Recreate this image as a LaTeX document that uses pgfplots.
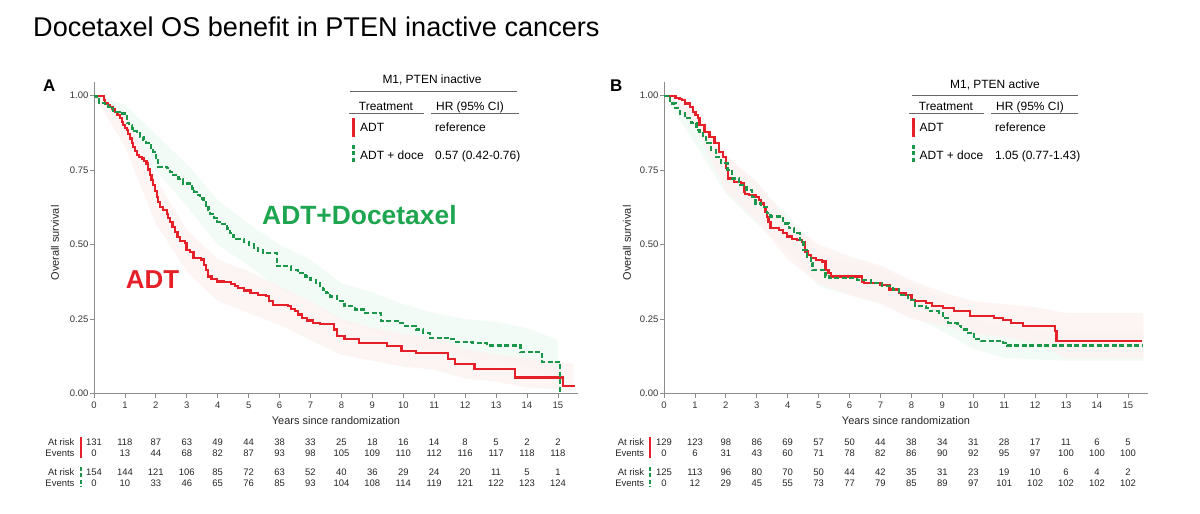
\documentclass[border=0pt]{standalone}
\usepackage{pgfplots}
\pgfplotsset{compat=1.18}
\usepackage{fontspec}
\setmainfont{Liberation Sans}
\definecolor{kmred}{RGB}{230,32,41}
\definecolor{kmgreen}{RGB}{28,150,72}
\definecolor{txtgreen}{RGB}{30,165,80}
\definecolor{redband}{RGB}{253,242,242}
\definecolor{greenband}{RGB}{243,251,246}
\definecolor{axgray}{RGB}{140,140,140}
\newcommand{\fs}[1]{\fontsize{#1}{#1}\selectfont}
\pgfplotsset{kmaxis/.style={
  scale only axis, width=484bp, height=311.8bp, anchor=south west,
  xmin=0,xmax=15.65,ymin=0,ymax=1.047,
  axis x line*=bottom, axis y line*=left,
  axis line style={axgray, line width=0.9bp},
  xtick={0,...,15}, ytick={0,0.25,0.5,0.75,1},
  yticklabels={0.00,0.25,0.50,0.75,1.00},
  tick style={axgray, line width=0.8bp},
  tick align=outside, major tick length=4.5bp,
  ticklabel style={font=\fs{9.5}, text=black!80},
  yticklabel style={inner xsep=1bp},
  /pgf/number format/assume math mode=true,
  clip=false,
}}
\newcommand{\risk}[3]{\foreach \v [count=\i from 0] in {#3} {\node[anchor=base, font=\fs{9.5}, inner sep=0, text=black!85] at ({#1+30.927*\i}, #2) {\v};}}
\begin{document}
\begin{tikzpicture}[x=1bp,y=1bp]
\useasboundingbox (0,0) rectangle (1200,514);
\node[anchor=base west, inner sep=0, font=\fs{27.2}] at (33,477.3) {Docetaxel OS benefit in PTEN inactive cancers};
\node[anchor=base west, inner sep=0, font=\fs{17}\bfseries] at (43,422.3) {A};
\node[anchor=base west, inner sep=0, font=\fs{17}\bfseries] at (610,422.3) {B};

% ---------------- Panel A ----------------
\begin{axis}[kmaxis, at={(94bp,120.5bp)}]
\addplot[fill=greenband, draw=none] coordinates {(0,1) (1,0.97) (2,0.87) (3,0.77) (4,0.65) (5,0.57) (6,0.5) (7,0.45) (8,0.37) (9,0.34) (10,0.3) (11,0.27) (12,0.25) (13,0.24) (14,0.22) (15,0.18) (15,0.05) (14,0.09) (13,0.11) (12,0.12) (11,0.14) (10,0.17) (9,0.21) (8,0.24) (7,0.31) (6,0.35) (5,0.43) (4,0.5) (3,0.63) (2,0.75) (1,0.89) (0,1)} --cycle;
\addplot[fill=redband, draw=none, fill opacity=0.85] coordinates {(0,1) (1,0.94) (2,0.72) (3,0.55) (4,0.45) (5,0.41) (6,0.36) (7,0.31) (8,0.25) (9,0.22) (10,0.2) (11,0.19) (12,0.15) (13,0.13) (14,0.12) (15.5,0.1) (15.5,0.01) (14,0.02) (13,0.04) (12,0.05) (11,0.08) (10,0.09) (9,0.11) (8,0.13) (7,0.18) (6,0.23) (5,0.27) (4,0.31) (3,0.41) (2,0.57) (1,0.83) (0,1)} --cycle;
\addplot[kmred, line width=2.2bp, const plot, mark=none] coordinates {(0,1) (0.33,0.985) (0.36,0.974) (0.45,0.968) (0.52,0.963) (0.6,0.955) (0.68,0.946) (0.76,0.935) (0.84,0.924) (0.9,0.912) (0.95,0.901) (1.0,0.892) (1.06,0.884) (1.1,0.870) (1.16,0.856) (1.22,0.842) (1.27,0.828) (1.33,0.814) (1.38,0.800) (1.46,0.794) (1.54,0.789) (1.62,0.78) (1.70,0.772) (1.75,0.752) (1.81,0.733) (1.86,0.716) (1.92,0.699) (1.97,0.68) (2.03,0.660) (2.08,0.643) (2.13,0.626) (2.24,0.615) (2.35,0.604) (2.40,0.59) (2.46,0.576) (2.54,0.56) (2.62,0.542) (2.70,0.526) (2.78,0.512) (2.93,0.505) (2.99,0.482) (3.1,0.475) (3.22,0.455) (3.45,0.450) (3.55,0.432) (3.62,0.415) (3.68,0.393) (3.8,0.385) (3.97,0.376) (4.2,0.374) (4.43,0.368) (4.55,0.36) (4.66,0.354) (4.85,0.346) (5.06,0.337) (5.3,0.332) (5.57,0.328) (5.65,0.31) (5.80,0.298) (6.26,0.293) (6.38,0.285) (6.49,0.276) (6.6,0.265) (6.72,0.254) (6.9,0.245) (7.07,0.237) (7.30,0.232) (7.76,0.215) (7.87,0.193) (8.10,0.182) (8.56,0.170) (9.48,0.159) (9.94,0.143) (10.40,0.137) (11.44,0.117) (11.67,0.098) (12.3,0.081) (13.61,0.054) (15.17,0.026) (15.54,0.026)};
\addplot[kmgreen, line width=2.2bp, const plot, mark=none, dash pattern=on 5bp off 2.5bp] coordinates {(0,1) (0.08,0.987) (0.16,0.975) (0.36,0.967) (0.45,0.962) (0.52,0.958) (0.62,0.946) (0.84,0.94) (1.0,0.935) (1.06,0.907) (1.14,0.9) (1.22,0.890) (1.3,0.882) (1.38,0.873) (1.5,0.862) (1.60,0.85) (1.68,0.842) (1.76,0.834) (1.84,0.823) (1.92,0.812) (2.0,0.79) (2.08,0.761) (2.35,0.756) (2.46,0.745) (2.57,0.733) (2.73,0.72) (2.89,0.705) (3.16,0.688) (3.24,0.677) (3.32,0.666) (3.43,0.655) (3.54,0.643) (3.62,0.63) (3.70,0.615) (3.76,0.604) (3.87,0.59) (3.97,0.576) (4.08,0.57) (4.30,0.554) (4.4,0.54) (4.51,0.526) (4.6,0.52) (4.84,0.509) (5.0,0.5) (5.17,0.488) (5.3,0.48) (5.46,0.471) (5.92,0.427) (6.38,0.415) (6.6,0.404) (6.84,0.393) (7.0,0.382) (7.18,0.371) (7.3,0.36) (7.41,0.349) (7.52,0.338) (7.64,0.326) (7.87,0.31) (8.10,0.293) (8.45,0.282) (8.74,0.271) (9.28,0.243) (9.83,0.237) (10.0,0.226) (10.40,0.215) (10.63,0.204) (10.86,0.187) (11.55,0.182) (11.72,0.173) (12.24,0.170) (12.70,0.161) (13.79,0.139) (14.48,0.106) (15.08,0)};
\end{axis}

% ---------------- Panel B ----------------
\begin{axis}[kmaxis, at={(664bp,120.5bp)}]
\addplot[fill=greenband, draw=none] coordinates {(0,1) (1,0.95) (2,0.8) (3,0.7) (4,0.6) (5,0.47) (6,0.44) (7,0.42) (8,0.37) (9,0.32) (10,0.25) (11,0.22) (13,0.21) (15.5,0.21) (15.5,0.11) (13,0.11) (11,0.12) (10,0.15) (9,0.21) (8,0.26) (7,0.31) (6,0.33) (5,0.36) (4,0.48) (3,0.57) (2,0.67) (1,0.84) (0,1)} --cycle;
\addplot[fill=redband, draw=none, fill opacity=0.85] coordinates {(0,1) (1,0.97) (2,0.8) (3,0.71) (4,0.58) (5,0.5) (6,0.46) (7,0.43) (8,0.38) (9,0.34) (10,0.31) (11,0.3) (12,0.29) (13,0.27) (15.5,0.27) (15.5,0.12) (13,0.12) (12,0.17) (11,0.19) (10,0.2) (9,0.23) (8,0.25) (7,0.3) (6,0.33) (5,0.37) (4,0.45) (3,0.58) (2,0.68) (1,0.9) (0,1)} --cycle;
\addplot[kmred, line width=2.2bp, const plot, mark=none] coordinates {(0,1) (0.37,0.993) (0.5,0.99) (0.57,0.985) (0.68,0.974) (0.84,0.963) (0.94,0.946) (1.02,0.935) (1.10,0.924) (1.15,0.901) (1.31,0.879) (1.47,0.862) (1.63,0.840) (1.79,0.812) (1.90,0.795) (2.00,0.756) (2.08,0.722) (2.27,0.711) (2.48,0.705) (2.59,0.677) (2.61,0.671) (2.75,0.666) (2.97,0.66) (3.07,0.649) (3.14,0.638) (3.23,0.627) (3.28,0.61) (3.33,0.593) (3.38,0.577) (3.44,0.557) (3.71,0.548) (3.85,0.538) (3.97,0.527) (4.14,0.520) (4.3,0.516) (4.46,0.509) (4.57,0.477) (4.65,0.465) (4.74,0.454) (4.92,0.449) (5.10,0.443) (5.22,0.415) (5.32,0.405) (5.40,0.393) (6.40,0.376) (6.46,0.371) (7.0,0.365) (7.29,0.349) (7.59,0.337) (7.83,0.332) (8.00,0.315) (8.12,0.31) (8.48,0.304) (8.66,0.293) (9.01,0.287) (9.37,0.276) (9.90,0.259) (10.67,0.254) (10.97,0.248) (11.21,0.237) (11.62,0.226) (12.63,0.209) (12.69,0.176) (15.45,0.176)};
\addplot[kmgreen, line width=2.2bp, const plot, mark=none, dash pattern=on 5bp off 2.5bp] coordinates {(0,1) (0.2,0.974) (0.37,0.958) (0.52,0.94) (0.68,0.924) (0.89,0.907) (1.05,0.884) (1.15,0.879) (1.25,0.86) (1.36,0.840) (1.52,0.817) (1.68,0.795) (1.84,0.773) (2.05,0.750) (2.19,0.722) (2.43,0.699) (2.67,0.683) (2.85,0.660) (2.96,0.638) (3.14,0.627) (3.32,0.605) (3.44,0.594) (3.85,0.571) (4.03,0.555) (4.21,0.538) (4.39,0.516) (4.51,0.482) (4.63,0.46) (4.74,0.438) (4.80,0.415) (5.22,0.393) (5.34,0.388) (6.23,0.382) (6.70,0.371) (7.06,0.360) (7.41,0.349) (7.59,0.332) (7.89,0.315) (8.12,0.293) (8.48,0.287) (8.60,0.276) (8.89,0.271) (9.01,0.254) (9.19,0.237) (9.49,0.226) (9.61,0.215) (9.78,0.204) (10.02,0.182) (10.26,0.176) (10.97,0.170) (11.09,0.161) (15.45,0.161)};
\end{axis}

% big labels panel A
\node[anchor=base west, inner sep=0, font=\fs{26.5}\bfseries, text=txtgreen] at (262,289) {ADT+Docetaxel};
\node[anchor=base west, inner sep=0, font=\fs{26}\bfseries, text=kmred] at (125.7,225.7) {ADT};

% axis labels
\node[font=\fs{11}, text=black!85] at (336,93) {Years since randomization};
\node[font=\fs{11}, text=black!85] at (906,93) {Years since randomization};
\node[font=\fs{11}, text=black!85, rotate=90] at (55,271) {Overall survival};
\node[font=\fs{11}, text=black!85, rotate=90] at (627,271) {Overall survival};

% legend A
\node[anchor=base, inner sep=0, font=\fs{12}] at (432,430) {M1, PTEN inactive};
\draw[black!60, line width=0.8bp] (350,423) -- (517,423);
\node[anchor=base, inner sep=0, font=\fs{12}] at (386,403.3) {Treatment};
\node[anchor=base, inner sep=0, font=\fs{12}] at (470,403.3) {HR (95\% CI)};
\draw[black!60, line width=0.8bp] (349,400.7) -- (424,400.7);
\draw[black!60, line width=0.8bp] (430.5,400.7) -- (518.5,400.7);
\draw[kmred, line width=3bp] (353,377) -- (353,396);
\node[anchor=base west, inner sep=0, font=\fs{12}] at (360,382.3) {ADT};
\node[anchor=base west, inner sep=0, font=\fs{12}] at (435,382.3) {reference};
\draw[kmgreen, line width=3bp, dash pattern=on 4bp off 2.5bp] (353,369) -- (353,352);
\node[anchor=base west, inner sep=0, font=\fs{12}] at (360,354) {ADT + doce};
\node[anchor=base west, inner sep=0, font=\fs{12}] at (435,354) {0.57 (0.42-0.76)};

% legend B
\node[anchor=base, inner sep=0, font=\fs{12}] at (995,425.7) {M1, PTEN active};
\draw[black!60, line width=0.8bp] (912,419) -- (1078,419);
\node[anchor=base, inner sep=0, font=\fs{12}] at (946,403.3) {Treatment};
\node[anchor=base, inner sep=0, font=\fs{12}] at (1030,403.3) {HR (95\% CI)};
\draw[black!60, line width=0.8bp] (909,401) -- (984,401);
\draw[black!60, line width=0.8bp] (991,401) -- (1078,401);
\draw[kmred, line width=3bp] (913,377) -- (913,396);
\node[anchor=base west, inner sep=0, font=\fs{12}] at (919.5,382.3) {ADT};
\node[anchor=base west, inner sep=0, font=\fs{12}] at (995,382.3) {reference};
\draw[kmgreen, line width=3bp, dash pattern=on 4bp off 2.5bp] (913,369) -- (913,352);
\node[anchor=base west, inner sep=0, font=\fs{12}] at (919.5,354) {ADT + doce};
\node[anchor=base west, inner sep=0, font=\fs{12}] at (995,354) {1.05 (0.77-1.43)};

% risk table A
\foreach \yy/\lab in {68.6/At risk, 57.6/Events, 38.6/At risk, 27.6/Events}
  {\node[anchor=base east, inner sep=0, font=\fs{9.5}, text=black!85] at (74.6,\yy) {\lab};}
\draw[kmred, line width=2.8bp] (81,56) -- (81,77);
\draw[kmgreen, line width=2.8bp, dash pattern=on 4bp off 2.5bp] (81,47) -- (81,27);
\risk{94}{68.6}{131,118,87,63,49,44,38,33,25,18,16,14,8,5,2,2}
\risk{94}{57.6}{0,13,44,68,82,87,93,98,105,109,110,112,116,117,118,118}
\risk{94}{38.6}{154,144,121,106,85,72,63,52,40,36,29,24,20,11,5,1}
\risk{94}{27.6}{0,10,33,46,65,76,85,93,104,108,114,119,121,122,123,124}

% risk table B
\foreach \yy/\lab in {68.6/At risk, 57.6/Events, 38.6/At risk, 27.6/Events}
  {\node[anchor=base east, inner sep=0, font=\fs{9.5}, text=black!85] at (644.4,\yy) {\lab};}
\draw[kmred, line width=2.8bp] (650,56) -- (650,77);
\draw[kmgreen, line width=2.8bp, dash pattern=on 4bp off 2.5bp] (650,47) -- (650,27);
\risk{664}{68.6}{129,123,98,86,69,57,50,44,38,34,31,28,17,11,6,5}
\risk{664}{57.6}{0,6,31,43,60,71,78,82,86,90,92,95,97,100,100,100}
\risk{664}{38.6}{125,113,96,80,70,50,44,42,35,31,23,19,10,6,4,2}
\risk{664}{27.6}{0,12,29,45,55,73,77,79,85,89,97,101,102,102,102,102}
\end{tikzpicture}
\end{document}
